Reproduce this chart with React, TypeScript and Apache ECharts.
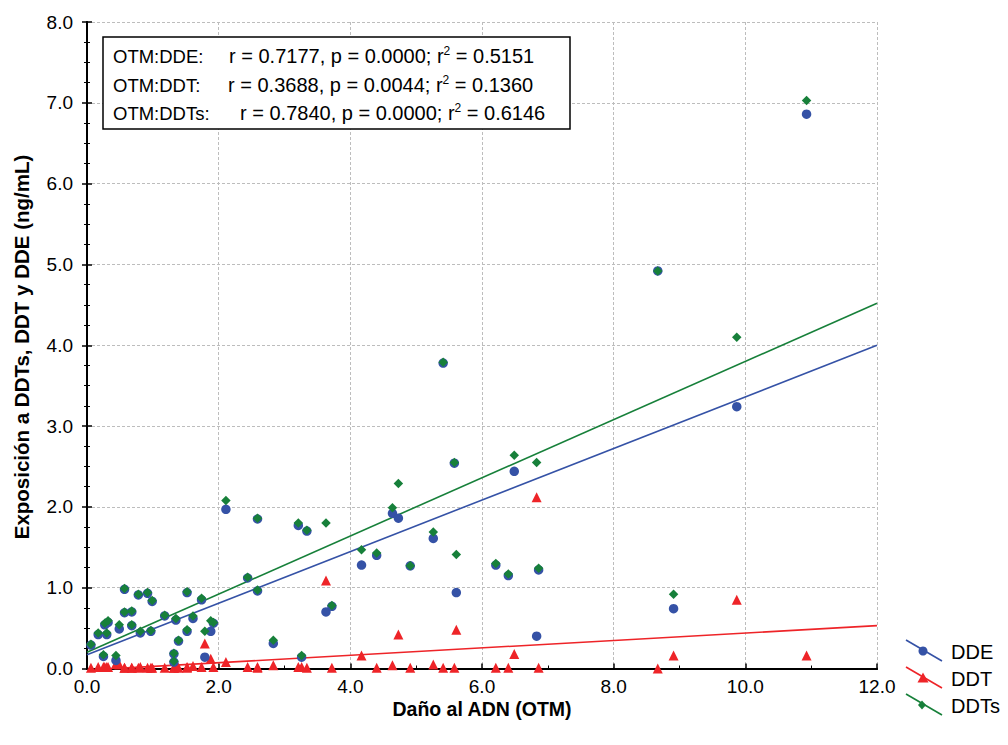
import React, { useEffect, useRef } from "react";
import * as echarts from "echarts";

// Daño al ADN (OTM) per subject
const otm = [0.06, 0.17, 0.25, 0.27, 0.32, 0.30, 0.44, 0.49, 0.57, 0.57, 0.68, 0.68, 0.78, 0.81, 0.92, 0.97, 0.99, 1.18, 1.35, 1.32, 1.32, 1.39, 1.52, 1.52, 1.61, 1.74, 1.79, 1.88, 1.92, 2.11, 2.44, 2.59, 2.59, 2.83, 3.21, 3.34, 3.26, 3.63, 3.72, 4.17, 4.40, 4.64, 4.73, 4.91, 5.26, 5.41, 5.58, 5.61, 6.21, 6.40, 6.49, 6.83, 6.86, 8.67, 8.91, 9.87, 10.93];
const dde = [0.29, 0.42, 0.15, 0.54, 0.57, 0.42, 0.10, 0.49, 0.98, 0.69, 0.70, 0.53, 0.91, 0.44, 0.93, 0.46, 0.83, 0.65, 0.60, 0.18, 0.08, 0.34, 0.94, 0.46, 0.62, 0.85, 0.14, 0.46, 0.56, 1.97, 1.12, 1.85, 0.96, 0.31, 1.77, 1.70, 0.14, 0.70, 0.77, 1.28, 1.40, 1.92, 1.86, 1.27, 1.61, 3.78, 2.54, 0.94, 1.28, 1.15, 2.44, 0.40, 1.22, 4.92, 0.74, 3.24, 6.86];
const ddt = [0.01, 0.02, 0.02, 0.02, 0.02, 0.02, 0.06, 0.05, 0.01, 0.01, 0.01, 0.01, 0.01, 0.02, 0.01, 0.01, 0.01, 0.01, 0.02, 0.01, 0.01, 0.01, 0.01, 0.02, 0.03, 0.02, 0.31, 0.12, 0.02, 0.08, 0.02, 0.02, 0.01, 0.04, 0.02, 0.01, 0.02, 1.09, 0.01, 0.16, 0.01, 0.04, 0.42, 0.01, 0.05, 0.01, 0.01, 0.48, 0.01, 0.01, 0.18, 2.12, 0.01, 0.00, 0.16, 0.85, 0.16];
const ddts = [0.30, 0.44, 0.17, 0.56, 0.59, 0.44, 0.16, 0.54, 0.99, 0.70, 0.71, 0.54, 0.92, 0.46, 0.94, 0.47, 0.84, 0.66, 0.62, 0.19, 0.09, 0.35, 0.95, 0.48, 0.65, 0.87, 0.46, 0.59, 0.57, 2.08, 1.13, 1.86, 0.97, 0.35, 1.80, 1.71, 0.16, 1.80, 0.78, 1.47, 1.43, 1.99, 2.29, 1.27, 1.69, 3.79, 2.55, 1.41, 1.30, 1.17, 2.64, 2.55, 1.24, 4.92, 0.92, 4.10, 7.03];

// Regression lines: value at x = 0 and at x = 12
const fitX = [0, 12];
const fitDDE = [0.17, 4.0];
const fitDDT = [-0.02, 0.53];
const fitDDTs = [0.2, 4.52];

const xTicks = [0, 2, 4, 6, 8, 10, 12];
const statLabels = ["OTM:DDE:", "OTM:DDT:", "OTM:DDTs:"];
const statR = ["0.7177", "0.3688", "0.7840"];
const statP = ["0.0000", "0.0044", "0.0000"];
const statR2 = ["0.5151", "0.1360", "0.6146"];
const legendNames = ["DDE", "DDT", "DDTs"];

const BLUE = "#3552A6";
const RED = "#EE2428";
const GREEN = "#17803A";
const FONT = "'Liberation Sans', Arial, sans-serif";

export default function App() {
  const ref = useRef<HTMLDivElement>(null);
  useEffect(() => {
    if (!ref.current) return;
    const chart = echarts.init(ref.current, undefined, { renderer: "svg" });
    const pts = (ys: number[]) => otm.map((x, i) => [x, ys[i]]);
    const line = (ys: number[]) => fitX.map((x, i) => [x, ys[i]]);

    const statX = [229, 228, 240];
    const statY = [56, 85, 113];
    const graphics: any[] = [
      {
        type: "rect",
        shape: { x: 103, y: 37, width: 467, height: 92 },
        style: { fill: "#fff", stroke: "#000", lineWidth: 1.5 },
        z: 10,
      },
    ];
    statLabels.forEach((lab, i) => {
      graphics.push({
        type: "text",
        x: 113,
        y: statY[i],
        z: 11,
        style: { text: lab, font: `18.5px ${FONT}`, fill: "#000", verticalAlign: "middle" },
      });
      graphics.push({
        type: "text",
        x: statX[i],
        y: statY[i],
        z: 11,
        style: {
          text: `r = ${statR[i]}, p = ${statP[i]}; r{sup|2} = ${statR2[i]}`,
          fontSize: 20,
          fontFamily: FONT,
          fill: "#000",
          verticalAlign: "middle",
          rich: {
            sup: { fontSize: 12, fontFamily: FONT, fill: "#000", verticalAlign: "top", lineHeight: 22 },
          },
        },
      });
    });

    // legend
    const legColors = [BLUE, RED, GREEN];
    const legY = [651, 678, 705];
    legendNames.forEach((name, i) => {
      const cy = legY[i];
      graphics.push({
        type: "line",
        shape: { x1: 906, y1: cy - 11, x2: 942, y2: cy + 10 },
        style: { stroke: legColors[i], lineWidth: 1.6 },
      });
      if (i === 0) {
        graphics.push({ type: "circle", shape: { cx: 923, cy, r: 4.5 }, style: { fill: BLUE } });
      } else if (i === 1) {
        graphics.push({
          type: "polygon",
          shape: { points: [[923, cy - 5.5], [928.5, cy + 4.5], [917.5, cy + 4.5]] },
          style: { fill: RED },
        });
      } else {
        graphics.push({
          type: "polygon",
          shape: { points: [[922, cy - 4.5], [926, cy], [922, cy + 4.5], [918, cy]] },
          style: { fill: GREEN },
        });
      }
      graphics.push({
        type: "text",
        x: 951,
        y: cy + 1,
        style: { text: name, font: `20px ${FONT}`, fill: "#000", verticalAlign: "middle" },
      });
    });

    // axis titles
    graphics.push({
      type: "text",
      x: 482,
      y: 709,
      style: {
        text: "Daño al ADN (OTM)",
        font: `bold 19.5px ${FONT}`,
        fill: "#000",
        align: "center",
        verticalAlign: "middle",
      },
    });
    graphics.push({
      type: "text",
      x: 21,
      y: 347,
      rotation: Math.PI / 2,
      style: {
        text: "Exposición a DDTs, DDT y DDE (ng/mL)",
        font: `bold 20.5px ${FONT}`,
        fill: "#000",
        align: "center",
        verticalAlign: "middle",
      },
    });

    const axisLine = { show: true, lineStyle: { color: "#000", width: 2 } };
    const splitLine = { show: true, lineStyle: { color: "#bdbdbd", type: [3, 2], width: 1 } };
    const tick = { show: true, inside: true, length: 5, lineStyle: { color: "#000", width: 1.5 } };
    const minor = { show: true, length: 3, lineStyle: { color: "#000", width: 1 } };

    chart.setOption({
      animation: false,
      backgroundColor: "#fff",
      grid: { left: 87, right: 131, top: 22, bottom: 76.5 },
      xAxis: [
        {
          type: "value",
          min: 0,
          max: 12,
          interval: 2,
          axisLine,
          axisTick: tick,
          minorTick: { ...minor, splitNumber: 2 },
          splitLine,
          axisLabel: {
            color: "#000",
            fontSize: 19,
            fontFamily: FONT,
            margin: 8,
            formatter: (v: number) => (xTicks.includes(v) ? v.toFixed(1) : ""),
          },
        },
        {
          type: "value",
          position: "top",
          min: 0,
          max: 12,
          interval: 2,
          axisLine,
          axisTick: { ...tick, show: false },
          splitLine: { show: false },
          axisLabel: { show: false },
        },
      ],
      yAxis: [
        {
          type: "value",
          min: 0,
          max: 8,
          interval: 1,
          axisLine,
          axisTick: tick,
          minorTick: { ...minor, splitNumber: 4 },
          splitLine,
          axisLabel: {
            color: "#000",
            fontSize: 19,
            fontFamily: FONT,
            margin: 14,
            formatter: (v: number) => v.toFixed(1),
          },
        },
        {
          type: "value",
          position: "right",
          min: 0,
          max: 8,
          interval: 1,
          axisLine,
          axisTick: tick,
          minorTick: { ...minor, splitNumber: 4 },
          splitLine: { show: false },
          axisLabel: { show: false },
        },
      ],
      series: [
        { type: "line", data: line(fitDDE), symbol: "none", lineStyle: { color: BLUE, width: 1.6 }, clip: true, z: 2 },
        { type: "line", data: line(fitDDT), symbol: "none", lineStyle: { color: RED, width: 1.6 }, clip: true, z: 2 },
        { type: "line", data: line(fitDDTs), symbol: "none", lineStyle: { color: GREEN, width: 1.6 }, clip: true, z: 2 },
        { type: "scatter", name: "DDT", data: pts(ddt), symbol: "triangle", symbolSize: 10, itemStyle: { color: RED, opacity: 1 }, z: 3 },
        { type: "scatter", name: "DDE", data: pts(dde), symbol: "circle", symbolSize: 9.5, itemStyle: { color: BLUE, opacity: 1 }, z: 3 },
        { type: "scatter", name: "DDTs", data: pts(ddts), symbol: "diamond", symbolSize: 9.5, itemStyle: { color: GREEN, opacity: 1 }, z: 4 },
      ],
      graphic: graphics,
    });
    return () => chart.dispose();
  }, []);
  return (
    <div
      ref={ref}
      style={{ position: "fixed", left: 0, top: 0, width: 1008, height: 745, background: "#fff" }}
    />
  );
}
